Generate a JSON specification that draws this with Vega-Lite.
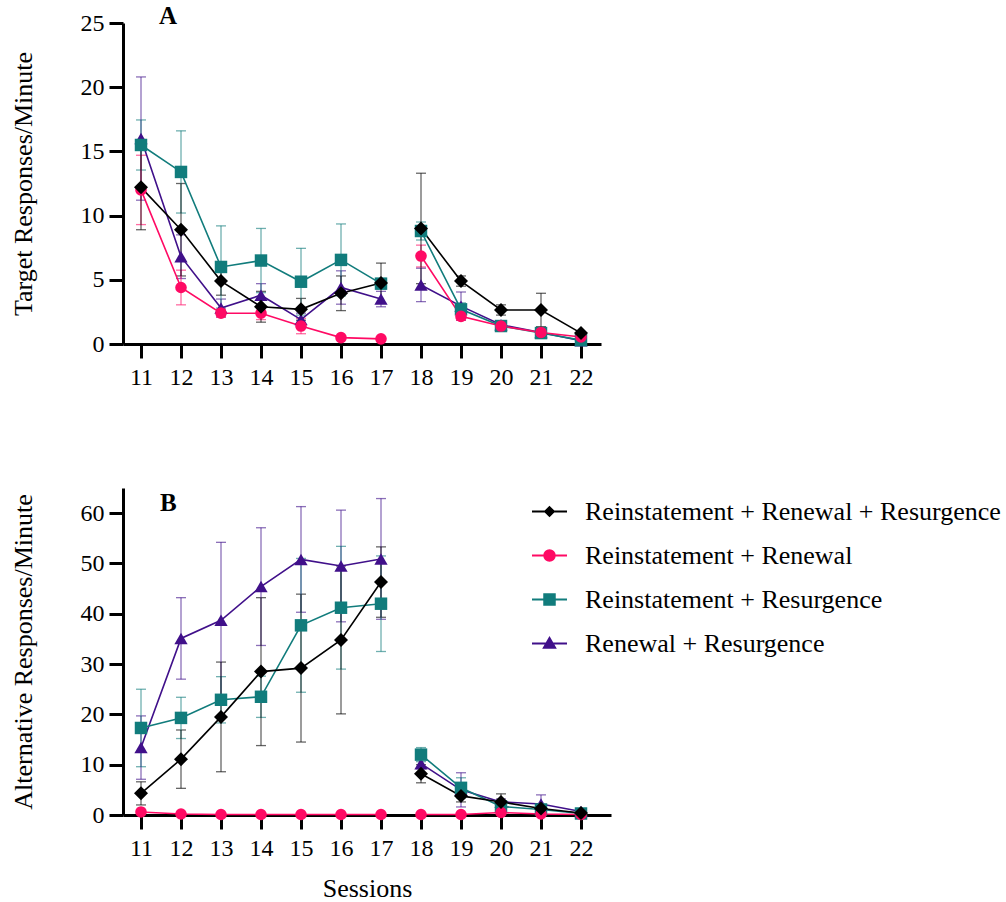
{
  "$schema": "https://vega.github.io/schema/vega-lite/v6.json",
  "background": "white",
  "padding": {"left": 10, "top": 4, "right": 5, "bottom": 0},
  "config": {
    "view": {"stroke": null},
    "font": "Liberation Serif",
    "legend": {"labelFont": "Liberation Serif"},
    "axis": {
      "domainColor": "black", "domainWidth": 3, "tickColor": "black", "tickWidth": 3, "tickSize": 14,
      "labelFont": "Liberation Serif", "labelFontSize": 24, "labelColor": "black", "labelPadding": 5,
      "titleFont": "Liberation Serif", "titleFontSize": 26, "titleFontWeight": "normal", "titleColor": "black",
      "grid": false
    },
    "concat": {"spacing": 99}
  },
  "resolve": {
    "scale": {"color": "independent", "shape": "independent", "size": "independent", "opacity": "independent"},
    "legend": {"color": "independent", "shape": "independent"}
  },
  "datasets": {
    "target": [
      {"group": "Renewal + Resurgence", "session": 11, "phase": 1, "mean": 16.0, "sem": 4.8},
      {"group": "Renewal + Resurgence", "session": 12, "phase": 1, "mean": 6.8, "sem": 1.7},
      {"group": "Renewal + Resurgence", "session": 13, "phase": 1, "mean": 2.8, "sem": 0.7},
      {"group": "Renewal + Resurgence", "session": 14, "phase": 1, "mean": 3.8, "sem": 0.9},
      {"group": "Renewal + Resurgence", "session": 15, "phase": 1, "mean": 1.9, "sem": 0.5},
      {"group": "Renewal + Resurgence", "session": 16, "phase": 1, "mean": 4.4, "sem": 1.3},
      {"group": "Renewal + Resurgence", "session": 17, "phase": 1, "mean": 3.5, "sem": 0.6},
      {"group": "Renewal + Resurgence", "session": 18, "phase": 2, "mean": 4.6, "sem": 1.3},
      {"group": "Renewal + Resurgence", "session": 19, "phase": 2, "mean": 2.95, "sem": 1.1},
      {"group": "Renewal + Resurgence", "session": 20, "phase": 2, "mean": 1.5, "sem": 0.3},
      {"group": "Renewal + Resurgence", "session": 21, "phase": 2, "mean": 0.9, "sem": 0.2},
      {"group": "Renewal + Resurgence", "session": 22, "phase": 2, "mean": 0.25, "sem": 0.1},
      {"group": "Reinstatement + Resurgence", "session": 11, "phase": 1, "mean": 15.5, "sem": 1.95},
      {"group": "Reinstatement + Resurgence", "session": 12, "phase": 1, "mean": 13.4, "sem": 3.2},
      {"group": "Reinstatement + Resurgence", "session": 13, "phase": 1, "mean": 6.0, "sem": 3.2},
      {"group": "Reinstatement + Resurgence", "session": 14, "phase": 1, "mean": 6.5, "sem": 2.5},
      {"group": "Reinstatement + Resurgence", "session": 15, "phase": 1, "mean": 4.85, "sem": 2.6},
      {"group": "Reinstatement + Resurgence", "session": 16, "phase": 1, "mean": 6.55, "sem": 2.8},
      {"group": "Reinstatement + Resurgence", "session": 17, "phase": 1, "mean": 4.7, "sem": 0.4},
      {"group": "Reinstatement + Resurgence", "session": 18, "phase": 2, "mean": 8.8, "sem": 0.7},
      {"group": "Reinstatement + Resurgence", "session": 19, "phase": 2, "mean": 2.7, "sem": 0.5},
      {"group": "Reinstatement + Resurgence", "session": 20, "phase": 2, "mean": 1.4, "sem": 0.25},
      {"group": "Reinstatement + Resurgence", "session": 21, "phase": 2, "mean": 0.85, "sem": 0.25},
      {"group": "Reinstatement + Resurgence", "session": 22, "phase": 2, "mean": 0.3, "sem": 0.1},
      {"group": "Reinstatement + Renewal", "session": 11, "phase": 1, "mean": 12.0, "sem": 2.7},
      {"group": "Reinstatement + Renewal", "session": 12, "phase": 1, "mean": 4.4, "sem": 1.35},
      {"group": "Reinstatement + Renewal", "session": 13, "phase": 1, "mean": 2.4, "sem": 0.3},
      {"group": "Reinstatement + Renewal", "session": 14, "phase": 1, "mean": 2.4, "sem": 0.5},
      {"group": "Reinstatement + Renewal", "session": 15, "phase": 1, "mean": 1.4, "sem": 0.6},
      {"group": "Reinstatement + Renewal", "session": 16, "phase": 1, "mean": 0.5, "sem": 0.1},
      {"group": "Reinstatement + Renewal", "session": 17, "phase": 1, "mean": 0.4, "sem": 0.1},
      {"group": "Reinstatement + Renewal", "session": 18, "phase": 2, "mean": 6.85, "sem": 0.85},
      {"group": "Reinstatement + Renewal", "session": 19, "phase": 2, "mean": 2.15, "sem": 0.3},
      {"group": "Reinstatement + Renewal", "session": 20, "phase": 2, "mean": 1.4, "sem": 0.3},
      {"group": "Reinstatement + Renewal", "session": 21, "phase": 2, "mean": 0.9, "sem": 0.35},
      {"group": "Reinstatement + Renewal", "session": 22, "phase": 2, "mean": 0.55, "sem": 0.1},
      {"group": "Reinstatement + Renewal + Resurgence", "session": 11, "phase": 1, "mean": 12.2, "sem": 3.3},
      {"group": "Reinstatement + Renewal + Resurgence", "session": 12, "phase": 1, "mean": 8.9, "sem": 3.6},
      {"group": "Reinstatement + Renewal + Resurgence", "session": 13, "phase": 1, "mean": 4.9, "sem": 1.1},
      {"group": "Reinstatement + Renewal + Resurgence", "session": 14, "phase": 1, "mean": 2.9, "sem": 1.2},
      {"group": "Reinstatement + Renewal + Resurgence", "session": 15, "phase": 1, "mean": 2.7, "sem": 0.85},
      {"group": "Reinstatement + Renewal + Resurgence", "session": 16, "phase": 1, "mean": 3.95, "sem": 1.35},
      {"group": "Reinstatement + Renewal + Resurgence", "session": 17, "phase": 1, "mean": 4.75, "sem": 1.55},
      {"group": "Reinstatement + Renewal + Resurgence", "session": 18, "phase": 2, "mean": 9.0, "sem": 4.3},
      {"group": "Reinstatement + Renewal + Resurgence", "session": 19, "phase": 2, "mean": 4.9, "sem": 0.4},
      {"group": "Reinstatement + Renewal + Resurgence", "session": 20, "phase": 2, "mean": 2.65, "sem": 0.4},
      {"group": "Reinstatement + Renewal + Resurgence", "session": 21, "phase": 2, "mean": 2.65, "sem": 1.3},
      {"group": "Reinstatement + Renewal + Resurgence", "session": 22, "phase": 2, "mean": 0.85, "sem": 0.1}
    ],
    "alt": [
      {"group": "Renewal + Resurgence", "session": 11, "phase": 1, "mean": 13.4, "sem": 6.3},
      {"group": "Renewal + Resurgence", "session": 12, "phase": 1, "mean": 35.1, "sem": 8.1},
      {"group": "Renewal + Resurgence", "session": 13, "phase": 1, "mean": 38.7, "sem": 15.5},
      {"group": "Renewal + Resurgence", "session": 14, "phase": 1, "mean": 45.4, "sem": 11.7},
      {"group": "Renewal + Resurgence", "session": 15, "phase": 1, "mean": 50.8, "sem": 10.5},
      {"group": "Renewal + Resurgence", "session": 16, "phase": 1, "mean": 49.5, "sem": 11.1},
      {"group": "Renewal + Resurgence", "session": 17, "phase": 1, "mean": 50.9, "sem": 12.0},
      {"group": "Renewal + Resurgence", "session": 18, "phase": 2, "mean": 10.2, "sem": 1.0},
      {"group": "Renewal + Resurgence", "session": 19, "phase": 2, "mean": 5.0, "sem": 3.4},
      {"group": "Renewal + Resurgence", "session": 20, "phase": 2, "mean": 2.6, "sem": 0.6},
      {"group": "Renewal + Resurgence", "session": 21, "phase": 2, "mean": 2.2, "sem": 1.8},
      {"group": "Renewal + Resurgence", "session": 22, "phase": 2, "mean": 0.7, "sem": 0.3},
      {"group": "Reinstatement + Resurgence", "session": 11, "phase": 1, "mean": 17.3, "sem": 7.7},
      {"group": "Reinstatement + Resurgence", "session": 12, "phase": 1, "mean": 19.3, "sem": 4.1},
      {"group": "Reinstatement + Resurgence", "session": 13, "phase": 1, "mean": 22.9, "sem": 4.6},
      {"group": "Reinstatement + Resurgence", "session": 14, "phase": 1, "mean": 23.5, "sem": 4.1},
      {"group": "Reinstatement + Resurgence", "session": 15, "phase": 1, "mean": 37.7, "sem": 13.3},
      {"group": "Reinstatement + Resurgence", "session": 16, "phase": 1, "mean": 41.2, "sem": 12.2},
      {"group": "Reinstatement + Resurgence", "session": 17, "phase": 1, "mean": 42.0, "sem": 9.5},
      {"group": "Reinstatement + Resurgence", "session": 18, "phase": 2, "mean": 12.0, "sem": 1.4},
      {"group": "Reinstatement + Resurgence", "session": 19, "phase": 2, "mean": 5.4, "sem": 2.0},
      {"group": "Reinstatement + Resurgence", "session": 20, "phase": 2, "mean": 1.7, "sem": 0.8},
      {"group": "Reinstatement + Resurgence", "session": 21, "phase": 2, "mean": 1.1, "sem": 0.5},
      {"group": "Reinstatement + Resurgence", "session": 22, "phase": 2, "mean": 0.3, "sem": 0.2},
      {"group": "Reinstatement + Renewal", "session": 11, "phase": 1, "mean": 0.6, "sem": 0.3},
      {"group": "Reinstatement + Renewal", "session": 12, "phase": 1, "mean": 0.2, "sem": 0.1},
      {"group": "Reinstatement + Renewal", "session": 13, "phase": 1, "mean": 0.1, "sem": 0.05},
      {"group": "Reinstatement + Renewal", "session": 14, "phase": 1, "mean": 0.1, "sem": 0.05},
      {"group": "Reinstatement + Renewal", "session": 15, "phase": 1, "mean": 0.1, "sem": 0.05},
      {"group": "Reinstatement + Renewal", "session": 16, "phase": 1, "mean": 0.1, "sem": 0.05},
      {"group": "Reinstatement + Renewal", "session": 17, "phase": 1, "mean": 0.1, "sem": 0.05},
      {"group": "Reinstatement + Renewal", "session": 18, "phase": 2, "mean": 0.1, "sem": 0.05},
      {"group": "Reinstatement + Renewal", "session": 19, "phase": 2, "mean": 0.1, "sem": 0.05},
      {"group": "Reinstatement + Renewal", "session": 20, "phase": 2, "mean": 0.5, "sem": 0.3},
      {"group": "Reinstatement + Renewal", "session": 21, "phase": 2, "mean": 0.2, "sem": 0.1},
      {"group": "Reinstatement + Renewal", "session": 22, "phase": 2, "mean": 0.1, "sem": 0.05},
      {"group": "Reinstatement + Renewal + Resurgence", "session": 11, "phase": 1, "mean": 4.3, "sem": 2.3},
      {"group": "Reinstatement + Renewal + Resurgence", "session": 12, "phase": 1, "mean": 11.1, "sem": 5.8},
      {"group": "Reinstatement + Renewal + Resurgence", "session": 13, "phase": 1, "mean": 19.5, "sem": 10.9},
      {"group": "Reinstatement + Renewal + Resurgence", "session": 14, "phase": 1, "mean": 28.5, "sem": 14.7},
      {"group": "Reinstatement + Renewal + Resurgence", "session": 15, "phase": 1, "mean": 29.2, "sem": 14.7},
      {"group": "Reinstatement + Renewal + Resurgence", "session": 16, "phase": 1, "mean": 34.8, "sem": 14.7},
      {"group": "Reinstatement + Renewal + Resurgence", "session": 17, "phase": 1, "mean": 46.3, "sem": 7.0},
      {"group": "Reinstatement + Renewal + Resurgence", "session": 18, "phase": 2, "mean": 8.2, "sem": 1.8},
      {"group": "Reinstatement + Renewal + Resurgence", "session": 19, "phase": 2, "mean": 3.8, "sem": 1.2},
      {"group": "Reinstatement + Renewal + Resurgence", "session": 20, "phase": 2, "mean": 2.6, "sem": 1.6},
      {"group": "Reinstatement + Renewal + Resurgence", "session": 21, "phase": 2, "mean": 1.3, "sem": 0.5},
      {"group": "Reinstatement + Renewal + Resurgence", "session": 22, "phase": 2, "mean": 0.4, "sem": 0.2}
    ]
  },
  "vconcat": [
    {
      "width": 478,
      "height": 321,
      "title": {"text": "A", "anchor": "start", "frame": "group", "dx": 36, "offset": -38, "baseline": "alphabetic", "font": "Liberation Serif", "fontSize": 25, "fontWeight": "bold", "color": "black"},
      "data": {"name": "target"},
      "encoding": {
        "x": {"field": "session", "type": "quantitative", "scale": {"domain": [10.55, 22.5], "nice": false, "zero": false},
              "axis": {"values": [11, 12, 13, 14, 15, 16, 17, 18, 19, 20, 21, 22], "format": "d", "title": null, "labelPadding": 7}},
        "y": {"field": "mean", "type": "quantitative", "scale": {"domain": [0, 25], "nice": false},
              "axis": {"values": [0, 5, 10, 15, 20, 25], "titlePadding": 44}, "title": "Target Responses/Minute"}
      },
      "layer": [
        {
          "mark": {"type": "errorbar", "ticks": {"size": 10}, "thickness": 1.3},
          "encoding": {
            "yError": {"field": "sem"},
            "color": {"field": "group", "type": "nominal", "legend": null,
                      "scale": {"domain": ["Reinstatement + Renewal + Resurgence", "Reinstatement + Renewal", "Reinstatement + Resurgence", "Renewal + Resurgence"],
                                "range": ["#000000", "#FF0A64", "#117C7C", "#40108A"]}},
            "opacity": {"field": "group", "type": "nominal", "legend": null,
                        "scale": {"domain": ["Reinstatement + Renewal", "Reinstatement + Resurgence", "Renewal + Resurgence", "Reinstatement + Renewal + Resurgence"],
                                  "range": [0.6, 0.6, 0.6, 1]}}
          }
        },
        {
          "mark": {"type": "line", "strokeWidth": 1.6},
          "encoding": {
            "color": {"field": "group", "type": "nominal", "legend": null},
            "detail": {"field": "phase"}
          }
        },
        {
          "mark": {"type": "point", "filled": true, "opacity": 1},
          "encoding": {
            "color": {"field": "group", "type": "nominal", "legend": null},
            "shape": {"field": "group", "type": "nominal", "legend": null,
                      "scale": {"domain": ["Reinstatement + Renewal + Resurgence", "Reinstatement + Renewal", "Reinstatement + Resurgence", "Renewal + Resurgence"],
                                "range": ["diamond", "circle", "square", "triangle-up"]}},
            "size": {"field": "group", "type": "nominal", "legend": null,
                     "scale": {"domain": ["Reinstatement + Renewal", "Reinstatement + Resurgence", "Renewal + Resurgence", "Reinstatement + Renewal + Resurgence"],
                               "range": [135, 196, 170, 150]}}
          }
        }
      ]
    },
    {
      "width": 488,
      "height": 327,
      "title": {"text": "B", "anchor": "start", "frame": "group", "dx": 37, "offset": -48, "baseline": "alphabetic", "font": "Liberation Serif", "fontSize": 25, "fontWeight": "bold", "color": "black"},
      "data": {"name": "alt"},
      "resolve": {"scale": {"color": "independent"}, "legend": {"color": "independent"}},
      "encoding": {
        "x": {"field": "session", "type": "quantitative", "scale": {"domain": [10.55, 22.75], "nice": false, "zero": false},
              "axis": {"values": [11, 12, 13, 14, 15, 16, 17, 18, 19, 20, 21, 22], "format": "d", "title": "Sessions", "labelPadding": 7, "titlePadding": 15}},
        "y": {"field": "mean", "type": "quantitative", "scale": {"domain": [0, 65], "nice": false},
              "axis": {"values": [0, 10, 20, 30, 40, 50, 60], "titlePadding": 44}, "title": "Alternative Responses/Minute"}
      },
      "layer": [
        {
          "mark": {"type": "errorbar", "ticks": {"size": 10}, "thickness": 1.3},
          "encoding": {
            "yError": {"field": "sem"},
            "color": {"field": "group", "type": "nominal", "legend": null,
                      "scale": {"domain": ["Reinstatement + Renewal + Resurgence", "Reinstatement + Renewal", "Reinstatement + Resurgence", "Renewal + Resurgence"],
                                "range": ["#000000", "#FF0A64", "#117C7C", "#40108A"]}},
            "opacity": {"field": "group", "type": "nominal", "legend": null,
                        "scale": {"domain": ["Reinstatement + Renewal", "Reinstatement + Resurgence", "Renewal + Resurgence", "Reinstatement + Renewal + Resurgence"],
                                  "range": [0.6, 0.6, 0.6, 1]}}
          }
        },
        {
          "mark": {"type": "line", "strokeWidth": 1.6},
          "encoding": {
            "color": {"field": "group", "type": "nominal", "legend": null,
                      "scale": {"domain": ["Reinstatement + Renewal + Resurgence", "Reinstatement + Renewal", "Reinstatement + Resurgence", "Renewal + Resurgence"],
                                "range": ["#000000", "#FF0A64", "#117C7C", "#40108A"]}},
            "detail": {"field": "phase"}
          }
        },
        {
          "mark": {"type": "point", "filled": true, "opacity": 1},
          "encoding": {
            "color": {"field": "group", "type": "nominal",
                      "scale": {"domain": ["Reinstatement + Renewal + Resurgence", "Reinstatement + Renewal", "Reinstatement + Resurgence", "Renewal + Resurgence"],
                                "range": ["#000000", "#FF0A64", "#117C7C", "#40108A"]},
                      "legend": {
                        "orient": "none", "legendX": 408, "legendY": 5, "title": null,
                        "labelFont": "Liberation Serif", "labelFontSize": 26, "labelColor": "black", "labelLimit": 700,
                        "symbolSize": 1225, "labelOffset": 17, "rowPadding": 12, "symbolStrokeWidth": 2, "symbolOpacity": 1,
                        "encode": {
                          "symbols": {
                            "update": {
                              "shape": {"signal": "datum.value === 'Reinstatement + Renewal + Resurgence' ? 'M-1,0L1,0M0,-0.25L0.25,0L0,0.25L-0.25,0Z' : datum.value === 'Reinstatement + Renewal' ? 'M-1,0L1,0M-0.3,0A0.3,0.3,0,1,0,0.3,0A0.3,0.3,0,1,0,-0.3,0Z' : datum.value === 'Reinstatement + Resurgence' ? 'M-1,0L1,0M-0.3,-0.3L0.3,-0.3L0.3,0.3L-0.3,0.3Z' : 'M-1,0L1,0M0,-0.32L0.32,0.24L-0.32,0.24Z'"},
                              "fill": {"signal": "datum.value === 'Reinstatement + Renewal + Resurgence' ? '#000000' : datum.value === 'Reinstatement + Renewal' ? '#FF0A64' : datum.value === 'Reinstatement + Resurgence' ? '#117C7C' : '#40108A'"},
                              "stroke": {"signal": "datum.value === 'Reinstatement + Renewal + Resurgence' ? '#000000' : datum.value === 'Reinstatement + Renewal' ? '#FF0A64' : datum.value === 'Reinstatement + Resurgence' ? '#117C7C' : '#40108A'"},
                              "strokeWidth": {"value": 2},
                              "opacity": {"value": 1}
                            },
                            "shape": {"value": {"expr": "datum.value === 'Reinstatement + Renewal + Resurgence' ? 'M-1,0L1,0M0,-0.25L0.25,0L0,0.25L-0.25,0Z' : datum.value === 'Reinstatement + Renewal' ? 'M-1,0L1,0M-0.3,0A0.3,0.3,0,1,0,0.3,0A0.3,0.3,0,1,0,-0.3,0Z' : datum.value === 'Reinstatement + Resurgence' ? 'M-1,0L1,0M-0.3,-0.3L0.3,-0.3L0.3,0.3L-0.3,0.3Z' : 'M-1,0L1,0M0,-0.32L0.32,0.24L-0.32,0.24Z'"}},
                            "fill": {"value": {"expr": "datum.value === 'Reinstatement + Renewal + Resurgence' ? '#000000' : datum.value === 'Reinstatement + Renewal' ? '#FF0A64' : datum.value === 'Reinstatement + Resurgence' ? '#117C7C' : '#40108A'"}},
                            "stroke": {"value": {"expr": "datum.value === 'Reinstatement + Renewal + Resurgence' ? '#000000' : datum.value === 'Reinstatement + Renewal' ? '#FF0A64' : datum.value === 'Reinstatement + Resurgence' ? '#117C7C' : '#40108A'"}},
                            "strokeWidth": {"value": 2},
                            "opacity": {"value": 1}
                          }
                        }
                      }},
            "shape": {"field": "group", "type": "nominal", "legend": null,
                      "scale": {"domain": ["Reinstatement + Renewal + Resurgence", "Reinstatement + Renewal", "Reinstatement + Resurgence", "Renewal + Resurgence"],
                                "range": ["diamond", "circle", "square", "triangle-up"]}},
            "size": {"field": "group", "type": "nominal", "legend": null,
                     "scale": {"domain": ["Reinstatement + Renewal", "Reinstatement + Resurgence", "Renewal + Resurgence", "Reinstatement + Renewal + Resurgence"],
                               "range": [135, 196, 170, 150]}}
          }
        }
      ]
    }
  ]
}
